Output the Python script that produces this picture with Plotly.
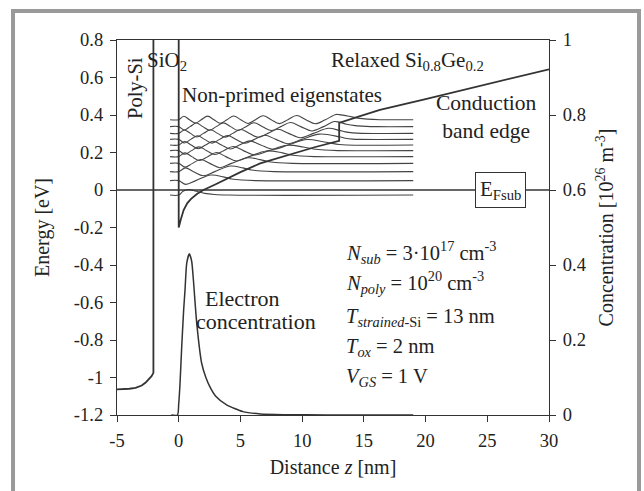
import plotly.graph_objects as go

# ---------------- data ----------------
# conduction band edge (eV) vs distance z (nm)
cb_x = [-5, -4.5, -4, -3.5, -3.0, -2.7, -2.4, -2.2, -2.05, -2.05, 0, 0,
        0.2, 0.4, 0.7, 1.0, 1.5, 2.0, 3.0, 4.0, 5.0, 6.6, 8.0, 9.3, 11.0, 13.0,
        13.0, 14.5, 16.3, 20, 25, 30]
cb_e = [-1.063, -1.062, -1.060, -1.055, -1.043, -1.028, -1.010, -0.993, -0.975, 3.1, 3.1, -0.2,
        -0.15, -0.107, -0.07, -0.047, -0.02, 0.0, 0.031, 0.064, 0.095, 0.142, 0.170, 0.196, 0.228, 0.262,
        0.358, 0.39, 0.427, 0.485, 0.564, 0.644]

# Fermi level of the substrate
ef_x = [-5, 30]
ef_e = [0, 0]

# electron concentration (1e26 m^-3) vs z
ne_x = [-0.6, -0.1, 0.0, 0.1, 0.24, 0.4, 0.51, 0.65, 0.86, 1.05, 1.19, 1.46, 1.86, 2.2, 2.53,
        3.0, 3.88, 5.2, 6.6, 8.5, 12, 19]
ne_c = [0, 0, 0.03, 0.08, 0.18, 0.28, 0.333, 0.405, 0.43, 0.41, 0.36, 0.245, 0.138, 0.1, 0.075,
        0.05, 0.027, 0.009, 0.003, 0.001, 0, 0]

# non-primed eigen energies (eV)
levels = [-0.027, 0.05, 0.098, 0.142, 0.178, 0.21, 0.24, 0.270, 0.302, 0.338, 0.375]

# wavefunctions: positions (nm) and displacement from their level (eV)
wf0_x = [-0.7, 0, 0.35, 0.8, 1.42, 2.1, 2.9, 4.0, 19]
wf0_d = [0, 0, 0.02, 0.03, 0.02, 0.009, 0.003, 0, 0]
wf1_x = [-0.7, 0, 0.57, 1.38, 2.6, 3.62, 4.3, 5.1, 6.2, 19]
wf1_d = [0, 0, -0.02, 0, 0.03, 0.02, 0.009, 0.003, 0, 0]
wf2_x = [-0.7, 0, 0.54, 1.20, 2.0, 2.92, 4.2, 5.2, 5.9, 6.7, 7.7, 19]
wf2_d = [0, 0, 0.02, 0, -0.022, 0, 0.03, 0.02, 0.009, 0.003, 0, 0]
wf3_x = [-0.7, 0, 0.51, 1.11, 1.78, 2.52, 3.33, 4.27, 5.6, 6.6, 7.3, 8.1, 9.2, 19]
wf3_d = [0, 0, -0.02, 0, 0.021, 0, -0.023, 0, 0.03, 0.02, 0.009, 0.003, 0, 0]
wf4_x = [-0.7, 0, 0.49, 1.06, 1.68, 2.35, 3.05, 3.82, 4.68, 5.71, 7.1, 8.4, 9.1, 9.9, 11.0, 19]
wf4_d = [0, 0, 0.02, 0, -0.021, 0, 0.022, 0, -0.023, 0, 0.03, 0.02, 0.009, 0.003, 0, 0]
wf5_x = [-0.7, 0, 0.49, 1.04, 1.63, 2.27, 2.92, 3.64, 4.41, 5.24, 6.18, 7.31, 8.8, 10.1, 10.9,
         11.8, 12.9, 19]
wf5_d = [0, 0, -0.019, 0, 0.02, 0, -0.021, 0, 0.022, 0, -0.023, 0, 0.029, 0.019, 0.009,
         0.003, 0, 0]
wf6_x = [-0.7, 0, 0.48, 1.01, 1.58, 2.18, 2.81, 3.47, 4.17, 4.91, 5.74, 6.64, 7.67, 8.86, 10.4,
         11.6, 12.4, 13.0, 13.6, 19]
wf6_d = [0, 0, 0.019, 0, -0.02, 0, 0.02, 0, -0.021, 0, 0.022, 0, -0.023, 0, 0.029,
         0.019, 0.009, 0.003, 0, 0]
wf7_x = [-0.7, 0, 0.47, 0.98, 1.53, 2.10, 2.70, 3.32, 3.96, 4.64, 5.37, 6.13, 6.97, 7.87, 8.86,
         9.98, 11.40, 13.0, 13.5, 14.1, 14.6, 19]
wf7_d = [0, 0, -0.019, 0, 0.019, 0, -0.02, 0, 0.021, 0, -0.021, 0, 0.022, 0, -0.023,
         0, 0.028, 0.014, 0.006, 0.0015, 0, 0]
wf8_x = [-0.7, 0, 0.45, 0.95, 1.46, 2.01, 2.58, 3.15, 3.76, 4.38, 5.03, 5.73, 6.45, 7.22, 8.04,
         8.91, 9.86, 10.91, 12.14, 13.0, 13.5, 14.1, 14.8, 19]
wf8_d = [0, 0, 0.018, 0, -0.019, 0, 0.019, 0, -0.02, 0, 0.021, 0, -0.021, 0, 0.022,
         0, -0.023, 0, 0.027, 0.016, 0.008, 0.0027, 0, 0]
wf9_x = [-0.7, 0, 0.44, 0.92, 1.43, 1.95, 2.49, 3.04, 3.62, 4.20, 4.81, 5.45, 6.10, 6.79, 7.52,
         8.27, 9.05, 9.89, 10.77, 11.74, 12.6, 13.0, 13.6, 14.3, 15.2, 16.0, 19]
wf9_d = [0, 0, -0.018, 0, 0.019, 0, -0.019, 0, 0.02, 0, -0.02, 0, 0.021, 0, -0.021,
         0, 0.022, 0, -0.023, 0, 0.027, 0.024, 0.013, 0.0054, 0.0014, 0, 0]
wf10_x = [-0.7, 0, 0.42, 0.87, 1.35, 1.83, 2.34, 2.85, 3.37, 3.91, 4.46, 5.02, 5.61, 6.22, 6.84,
          7.49, 8.15, 8.84, 9.55, 10.30, 11.07, 11.88, 12.74, 13.0, 13.8, 14.5, 15.3, 16.3, 19]
wf10_d = [0, 0, 0.018, 0, -0.018, 0, 0.019, 0, -0.019, 0, 0.02, 0, -0.02, 0, 0.021,
          0, -0.021, 0, 0.022, 0, -0.022, 0, 0.028, 0.027, 0.018, 0.0084, 0.0028, 0, 0]

x_ticks = [-5, 0, 5, 10, 15, 20, 25, 30]
x_tick_text = ["-5", "0", "5", "10", "15", "20", "25", "30"]
y_ticks = [0.8, 0.6, 0.4, 0.2, 0, -0.2, -0.4, -0.6, -0.8, -1, -1.2]
y_tick_text = ["0.8", "0.6", "0.4", "0.2", "0", "-0.2", "-0.4", "-0.6", "-0.8", "-1", "-1.2"]
y2_ticks = [0, 0.2, 0.4, 0.6, 0.8, 1]
y2_tick_text = ["0", "0.2", "0.4", "0.6", "0.8", "1"]

# ---------------- figure ----------------
INK = "#333333"
TXT = "#222222"
FONT = "Liberation Serif"

fig = go.Figure()

wf_sets = [(wf0_x, wf0_d), (wf1_x, wf1_d), (wf2_x, wf2_d), (wf3_x, wf3_d), (wf4_x, wf4_d),
           (wf5_x, wf5_d), (wf6_x, wf6_d), (wf7_x, wf7_d), (wf8_x, wf8_d), (wf9_x, wf9_d),
           (wf10_x, wf10_d)]
for lev, (xs, ds) in zip(levels, wf_sets):
    fig.add_trace(go.Scatter(x=xs, y=[lev + d for d in ds], mode="lines",
                             line=dict(color="#444444", width=1.1, shape="spline", smoothing=1),
                             showlegend=False, hoverinfo="skip"))

fig.add_trace(go.Scatter(x=ef_x, y=ef_e, mode="lines", line=dict(color=INK, width=1.3),
                         showlegend=False, hoverinfo="skip"))
fig.add_trace(go.Scatter(x=cb_x, y=cb_e, mode="lines", line=dict(color=INK, width=1.8),
                         showlegend=False, hoverinfo="skip"))
fig.add_trace(go.Scatter(x=ne_x, y=ne_c, mode="lines", yaxis="y2",
                         line=dict(color=INK, width=1.5, shape="spline", smoothing=0.6),
                         showlegend=False, hoverinfo="skip"))

def ann(text, x, y, size=21, **kw):
    d = dict(text=text, x=x, y=y, xref="x", yref="y", showarrow=False,
             font=dict(family=FONT, size=size, color=TXT))
    d.update(kw)
    fig.add_annotation(**d)

ann("Poly-Si", -3.54, 0.544, size=20.5, textangle=-90)
ann("SiO<sub>2</sub>", -0.95, 0.69)
ann("Non-primed eigenstates", 8.37, 0.507)
ann("Relaxed Si<sub>0.8</sub>Ge<sub>0.2</sub>", 18.5, 0.688)
ann("Conduction<br>band edge", 24.9, 0.392, size=21.5)
ann("E<sub>Fsub</sub>", 26.08, 0.0, bgcolor="white", bordercolor=INK, borderwidth=1, borderpad=4)
ann("Electron", 2.0, -0.581, size=22, xanchor="left")
ann("concentration", 1.27, -0.699, size=22, xanchor="left")
PX = 13.42
ann("<i>N<sub>sub</sub></i> = 3·10<sup>17</sup> cm<sup>-3</sup>", PX, -0.335, size=20.5, xanchor="left")
ann("<i>N<sub>poly</sub></i> = 10<sup>20</sup> cm<sup>-3</sup>", PX, -0.492, size=20.5, xanchor="left")
ann("<i>T<sub>strained-</sub></i><sub>Si</sub> = 13 nm", PX, -0.68, size=20.5, xanchor="left")
ann("<i>T<sub>ox</sub></i> = 2 nm", PX, -0.84, size=20.5, xanchor="left")
ann("<i>V<sub>GS</sub></i> = 1 V", PX, -1.0, size=20.5, xanchor="left")

# outer grey frame
fig.add_shape(type="rect", xref="paper", yref="paper", x0=-0.2407, x1=1.2083, y0=-0.25, y1=1.0773,
              line=dict(color="#9a9a9a", width=4), fillcolor="rgba(0,0,0,0)", layer="below")

axis_common = dict(showgrid=False, zeroline=False, showline=True, linecolor=INK, linewidth=1.3,
                   ticks="outside", ticklen=6, tickwidth=1.2, tickcolor=INK,
                   tickfont=dict(family=FONT, size=18.5, color=TXT))
title_font = dict(family=FONT, size=20, color=TXT)

fig.update_layout(
    width=644, height=491,
    margin=dict(l=117, r=95, t=40, b=76),
    paper_bgcolor="white", plot_bgcolor="white",
    font=dict(family=FONT, size=19, color=TXT),
    xaxis=dict(range=[-5, 30], tickvals=x_ticks, ticktext=x_tick_text, mirror=True,
               ticklabelstandoff=3,
               title=dict(text="Distance <i>z</i> [nm]", standoff=9, font=title_font), **axis_common),
    yaxis=dict(range=[-1.2, 0.8], tickvals=y_ticks, ticktext=y_tick_text, ticklabelstandoff=3,
               title=dict(text="Energy [eV]", standoff=18, font=title_font), **axis_common),
    yaxis2=dict(range=[0, 1], tickvals=y2_ticks, ticktext=y2_tick_text, overlaying="y", side="right",
                ticklabelstandoff=3,
                title=dict(text="Concentration [10<sup>26</sup> m<sup>-3</sup>]", standoff=14,
                           font=title_font), **axis_common),
)

fig.write_html("out.html")
